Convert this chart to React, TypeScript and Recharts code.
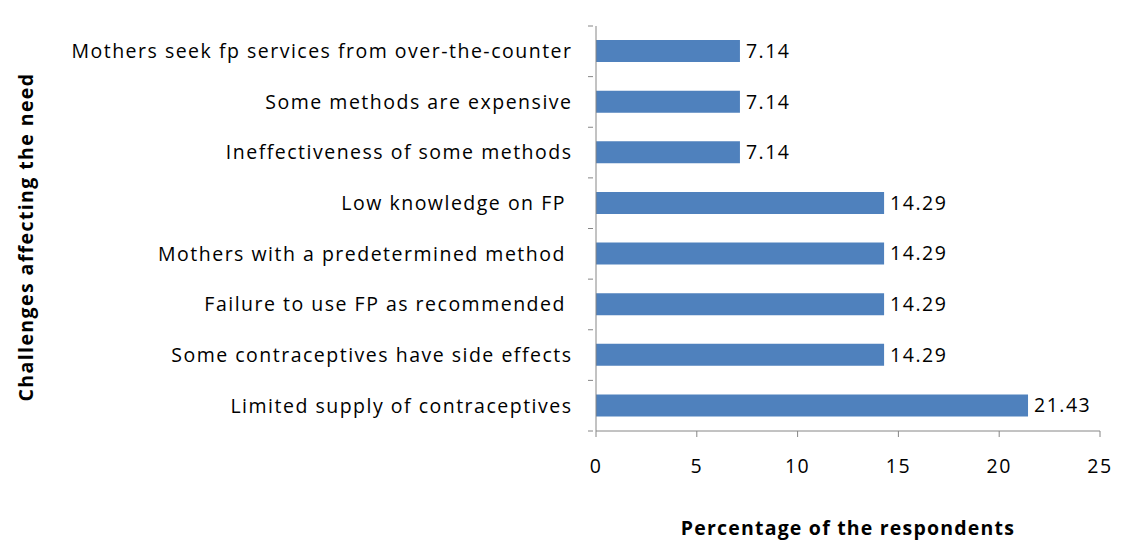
import React from "react";
import {
  BarChart,
  Bar,
  XAxis,
  YAxis,
  LabelList,
  Label,
} from "recharts";

const categories = [
  "Mothers seek fp services from over-the-counter",
  "Some methods are expensive",
  "Ineffectiveness of some methods",
  "Low knowledge on FP\u00a0",
  "Mothers with a predetermined method\u00a0",
  "Failure to use FP as recommended\u00a0",
  "Some contraceptives have side effects",
  "Limited supply of contraceptives",
];
const percentages = [7.14, 7.14, 7.14, 14.29, 14.29, 14.29, 14.29, 21.43];
const xTicks = [0, 5, 10, 15, 20, 25];

const data = categories.map((name, i) => ({ name, value: percentages[i] }));

const FONT = "'Open Sans', sans-serif";
const SIZE = 19.5;
const SPACING = 1.5;
const AXIS_COLOR = "#868686";
const TOP = 26;
const PLOT_H = 405;
const BAND = PLOT_H / categories.length;

function CategoryTick(props: any) {
  const { x, y, payload, index } = props;
  const axisX = x + 5;
  return (
    <g>
      <line x1={axisX - 5} x2={axisX} y1={y - BAND / 2} y2={y - BAND / 2} stroke={AXIS_COLOR} />
      {index === categories.length - 1 && (
        <line x1={axisX - 5} x2={axisX} y1={y + BAND / 2} y2={y + BAND / 2} stroke={AXIS_COLOR} />
      )}
      <text
        x={axisX - 20.5}
        y={y}
        dy="0.35em"
        textAnchor="end"
        fontFamily={FONT}
        fontSize={SIZE}
        letterSpacing={SPACING}
        fill="#000"
      >
        {payload.value}
      </text>
    </g>
  );
}

const YTitle = () => (
  <text
    x={0}
    y={0}
    transform="translate(33 237) rotate(-90)"
    textAnchor="middle"
    fontFamily={FONT}
    fontSize={SIZE}
    fontWeight={700}
    letterSpacing={1.4}
    fill="#000"
  >
    Challenges affecting the need
  </text>
);

export default function App() {
  return (
    <div
      style={{
        position: "relative",
        width: 1123,
        height: 551,
        margin: -8,
        background: "#fff",
        overflow: "hidden",
      }}
    >
      {/* grey frame round the chart */}
      <div
        style={{
          position: "absolute",
          left: 6,
          top: 4,
          width: 1118,
          height: 546,
          borderTop: "2px solid #909090",
          borderLeft: "2px solid #909090",
          borderBottom: "2px solid #909090",
          borderRight: "2px solid #909090",
          boxSizing: "border-box",
        }}
      />
      <div style={{ position: "absolute", left: 0, top: 0 }}>
        <BarChart
          width={1123}
          height={551}
          data={data}
          layout="vertical"
          margin={{ top: TOP, right: 23, bottom: 0, left: 0 }}
        >
          <XAxis
            type="number"
            domain={[0, 25]}
            ticks={xTicks}
            height={120}
            stroke={AXIS_COLOR}
            tickSize={6}
            tickMargin={22}
            tick={{ fill: "#000", fontSize: SIZE, fontFamily: FONT, letterSpacing: SPACING }}
          >
            <Label
              value="Percentage of the respondents"
              position="insideBottom"
              offset={16}
              style={{ fill: "#000", fontSize: SIZE, fontWeight: 700, fontFamily: FONT, letterSpacing: 1.2 }}
            />
          </XAxis>
          <YAxis
            type="category"
            dataKey="name"
            width={596}
            stroke={AXIS_COLOR}
            tickLine={false}
            tick={<CategoryTick />}
            interval={0}
          >
            <Label content={YTitle} />
          </YAxis>
          <Bar dataKey="value" fill="#4F81BD" barSize={22} isAnimationActive={false}>
            <LabelList
              dataKey="value"
              position="right"
              offset={6}
              fill="#000"
              style={{ fontSize: SIZE, fontFamily: FONT, letterSpacing: SPACING }}
            />
          </Bar>
        </BarChart>
      </div>
    </div>
  );
}
